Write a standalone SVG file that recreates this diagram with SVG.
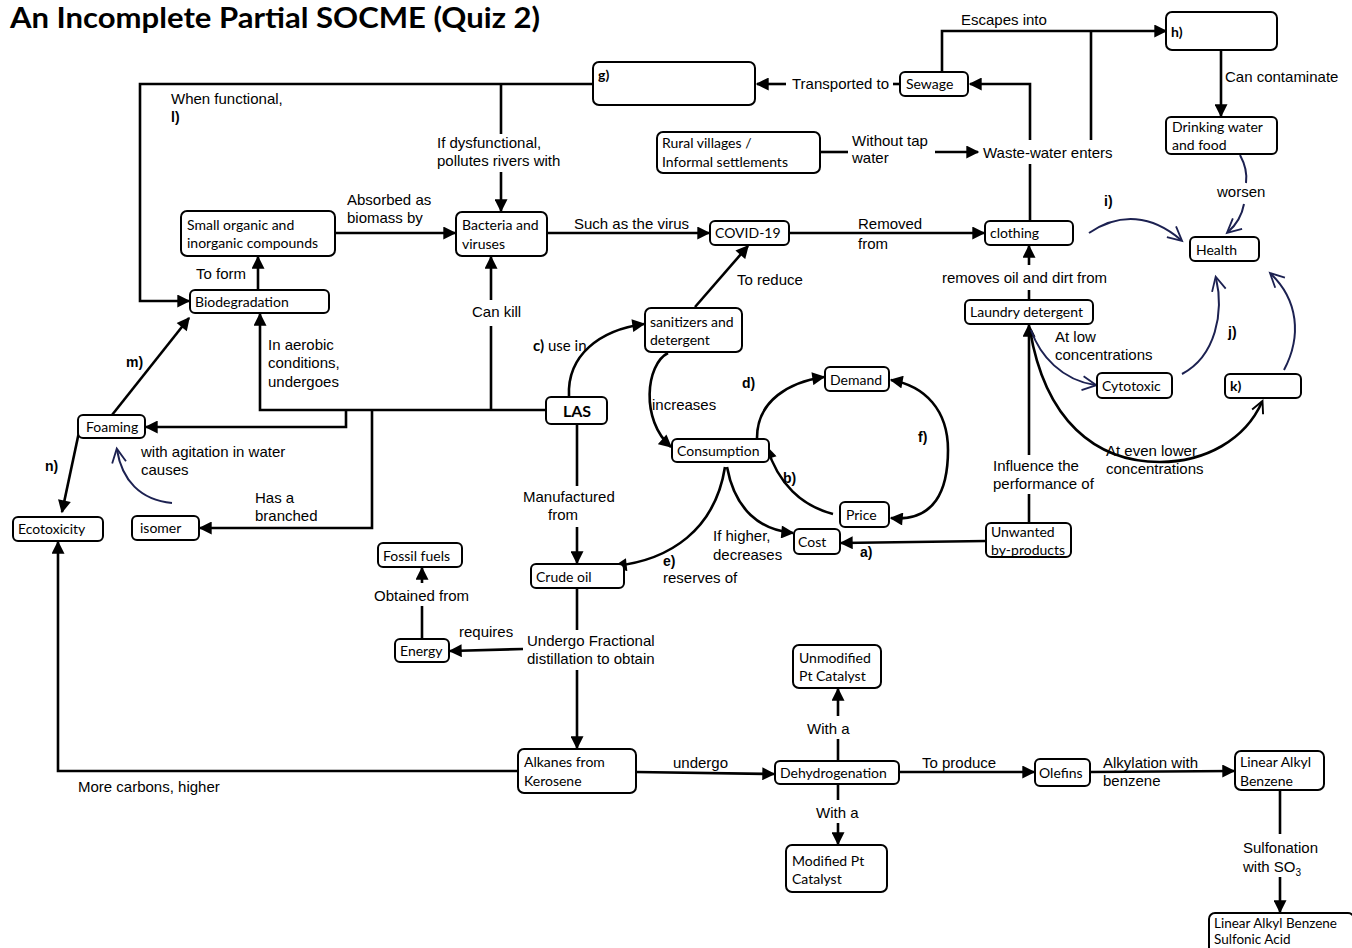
<svg xmlns="http://www.w3.org/2000/svg" width="1352" height="948" viewBox="0 0 1352 948">
  <style>
    .n rect { fill: #fff; stroke: #000; stroke-width: 2; }
    .n text { font-family: Lato, "Open Sans", sans-serif; font-size: 14px; fill: #000; }
    .b { font-weight: bold; }
    .c path, .c line, .c polyline { fill: none; stroke: #000; stroke-width: 2.6; }
    .c .nv { stroke: #1c2151; stroke-width: 2; }
    .l { font-family: "Liberation Sans", Arial, sans-serif; font-size: 15px; fill: #000; }
    .lb { font-family: "Liberation Sans", Arial, sans-serif; font-size: 14px; font-weight: bold; fill: #000; }
  </style>
  <defs>
    <marker id="ah" viewBox="0 0 10 10" refX="9" refY="5" markerWidth="14" markerHeight="13" markerUnits="userSpaceOnUse" orient="auto-start-reverse">
      <path d="M0,0 L10,5 L0,10 z" fill="#000"/>
    </marker>
    <marker id="ov" viewBox="0 0 10 10" refX="9" refY="5" markerWidth="14" markerHeight="20" markerUnits="userSpaceOnUse" orient="auto" overflow="visible">
      <path d="M0,0 L10,5 L0,10" fill="none" stroke="#1c2151" stroke-width="1.3"/>
    </marker>
    <marker id="ob" viewBox="0 0 10 10" refX="9" refY="5" markerWidth="12" markerHeight="18" markerUnits="userSpaceOnUse" orient="auto" overflow="visible">
      <path d="M0,0 L10,5 L0,10" fill="none" stroke="#000" stroke-width="1.6"/>
    </marker>
  </defs>
  <rect width="1352" height="948" fill="#fff"/>

  <text x="10" y="28" font-family="Lato, 'Open Sans', sans-serif" font-size="28" font-weight="bold" textLength="530" lengthAdjust="spacingAndGlyphs">An Incomplete Partial SOCME (Quiz 2)</text>

  <!-- connectors -->
  <g id="connectors" class="c">
    <!-- sewage branch -->
    <line x1="900" y1="84" x2="893" y2="84"/>
    <line x1="786" y1="84" x2="757" y2="84" marker-end="url(#ah)"/>
    <polyline points="1030,221 1030,164"/>
    <polyline points="1030,140 1030,84 970,84" marker-end="url(#ah)"/>
    <line x1="820" y1="152" x2="848" y2="152"/>
    <line x1="935" y1="152" x2="978" y2="152" marker-end="url(#ah)"/>
    <polyline points="942,72 942,31 1166,31" marker-end="url(#ah)"/>
    <line x1="1091" y1="31" x2="1091" y2="140"/>
    <line x1="1221" y1="50" x2="1221" y2="116" marker-end="url(#ah)"/>
    <!-- treatment plant -->
    <polyline points="593,84 140,84 140,301 189,301" marker-end="url(#ah)"/>
    <line x1="501" y1="84" x2="501" y2="134"/>
    <line x1="501" y1="172" x2="501" y2="211" marker-end="url(#ah)"/>
    <line x1="258" y1="290" x2="258" y2="257" marker-end="url(#ah)"/>
    <line x1="335" y1="233" x2="455" y2="233" marker-end="url(#ah)"/>
    <line x1="547" y1="233" x2="709" y2="233" marker-end="url(#ah)"/>
    <line x1="789" y1="233" x2="984" y2="233" marker-end="url(#ah)"/>
    <line x1="1029" y1="300" x2="1029" y2="290"/>
    <line x1="1029" y1="265" x2="1029" y2="246" marker-end="url(#ah)"/>
    <!-- from LAS -->
    <polyline points="546,410 260,410 260,314" marker-end="url(#ah)"/>
    <line x1="491" y1="410" x2="491" y2="326"/>
    <line x1="491" y1="300" x2="491" y2="257" marker-end="url(#ah)"/>
    <polyline points="346,410 346,427 146,427" marker-end="url(#ah)"/>
    <polyline points="372,410 372,528 200,528" marker-end="url(#ah)"/>
    <line x1="112" y1="415" x2="189" y2="318" marker-end="url(#ah)"/>
    <line x1="79" y1="432" x2="62" y2="512" marker-end="url(#ah)"/>
    <line x1="577" y1="424" x2="577" y2="486"/>
    <line x1="577" y1="527" x2="577" y2="563" marker-end="url(#ah)"/>
    <line x1="577" y1="588" x2="577" y2="630"/>
    <line x1="577" y1="670" x2="577" y2="748" marker-end="url(#ah)"/>
    <line x1="523" y1="649" x2="450" y2="651" marker-end="url(#ah)"/>
    <line x1="422" y1="639" x2="422" y2="606"/>
    <line x1="422" y1="583" x2="422" y2="568" marker-end="url(#ah)"/>
    <!-- production chain -->
    <polyline points="518,771 58,771 58,542" marker-end="url(#ah)"/>
    <line x1="636" y1="772" x2="774" y2="774" marker-end="url(#ah)"/>
    <line x1="838" y1="761" x2="838" y2="739"/>
    <line x1="838" y1="716" x2="838" y2="689" marker-end="url(#ah)"/>
    <line x1="838" y1="784" x2="838" y2="800"/>
    <line x1="838" y1="823" x2="838" y2="844" marker-end="url(#ah)"/>
    <line x1="899" y1="772" x2="1034" y2="772" marker-end="url(#ah)"/>
    <line x1="1090" y1="772" x2="1234" y2="771" marker-end="url(#ah)"/>
    <line x1="1280" y1="790" x2="1280" y2="834"/>
    <line x1="1280" y1="877" x2="1280" y2="912" marker-end="url(#ah)"/>
    <!-- economy loop -->
    <path d="M569,396 C567,355 600,330 644,324" marker-end="url(#ah)"/>
    <line x1="695" y1="307" x2="748" y2="246" marker-end="url(#ah)"/>
    <path d="M668,353 C646,364 640,420 671,447" marker-end="url(#ah)"/>
    <path d="M757,438 C757,400 790,382 824,377" marker-end="url(#ah)"/>
    <path d="M833,514 C802,506 778,484 767,447" marker-end="url(#ah)"/>
    <path d="M891,518 C935,522 948,490 948,450 C948,410 925,386 891,380" marker-start="url(#ah)" marker-end="url(#ah)"/>
    <path d="M727,467 C735,510 760,530 793,533" marker-end="url(#ah)"/>
    <path d="M725,467 C715,530 670,560 615,566" marker-end="url(#ah)"/>
    <line x1="986" y1="541" x2="841" y2="543" marker-end="url(#ah)"/>
    <line x1="1029" y1="523" x2="1029" y2="494"/>
    <line x1="1029" y1="455" x2="1029" y2="325" marker-end="url(#ah)"/>
    <!-- health effects -->
    <path d="M1030,330 C1045,420 1095,462 1160,462 C1205,462 1245,440 1262,402" stroke-width="2.4" marker-end="url(#ob)"/>
    <path class="nv" d="M1031,330 C1040,356 1062,380 1095,385" marker-end="url(#ov)"/>
    <path class="nv" d="M1182,374 C1216,356 1224,312 1216,278" marker-end="url(#ov)"/>
    <path class="nv" d="M1284,370 C1302,336 1298,300 1271,274" marker-end="url(#ov)"/>
    <path class="nv" d="M1089,233 C1120,212 1152,215 1181,240" marker-end="url(#ov)"/>
    <path class="nv" d="M1240,155 C1246,166 1247,176 1246,183"/>
    <path class="nv" d="M1244,204 C1242,215 1236,225 1228,232" marker-end="url(#ov)"/>
    <path class="nv" d="M172,503 C140,500 122,480 117,450" marker-end="url(#ov)"/>
  </g>

  <!-- connector labels -->
  <g id="labels">
    <text class="l" x="792" y="89">Transported to</text>
    <text class="l" x="961" y="25">Escapes into</text>
    <text class="l" x="1225" y="82">Can contaminate</text>
    <text class="l" x="852" y="146">Without tap</text>
    <text class="l" x="852" y="163">water</text>
    <text class="l" x="983" y="158">Waste-water enters</text>
    <text class="l" x="1217" y="197">worsen</text>
    <text class="lb" x="1104" y="206">i)</text>
    <text class="l" x="171" y="104">When functional,</text>
    <text class="lb" x="171" y="122">l)</text>
    <text class="l" x="437" y="148">If dysfunctional,</text>
    <text class="l" x="437" y="166">pollutes rivers with</text>
    <text class="l" x="347" y="205">Absorbed as</text>
    <text class="l" x="347" y="223">biomass by</text>
    <text class="l" x="574" y="229" font-family="Lato, sans-serif">Such as the virus</text>
    <text class="l" x="858" y="229">Removed</text>
    <text class="l" x="858" y="249">from</text>
    <text class="l" x="196" y="279">To form</text>
    <text class="l" x="942" y="283">removes oil and dirt from</text>
    <text class="l" x="737" y="285" font-family="Lato, sans-serif">To reduce</text>
    <text class="l" x="472" y="317" font-family="Lato, sans-serif">Can kill</text>
    <text class="l" x="268" y="350">In aerobic</text>
    <text class="l" x="268" y="368">conditions,</text>
    <text class="l" x="268" y="387">undergoes</text>
    <text class="lb" x="126" y="367">m)</text>
    <text x="533" y="351" font-family="Lato, sans-serif" font-size="15"><tspan font-weight="bold">c)</tspan> use in</text>
    <text class="l" x="1055" y="342">At low</text>
    <text class="l" x="1055" y="360">concentrations</text>
    <text class="lb" x="1228" y="337">j)</text>
    <text class="lb" x="742" y="388">d)</text>
    <text class="l" x="652" y="410" font-family="Lato, sans-serif">increases</text>
    <text class="l" x="141" y="457">with agitation in water</text>
    <text class="l" x="141" y="475">causes</text>
    <text class="lb" x="918" y="442">f)</text>
    <text class="lb" x="45" y="471">n)</text>
    <text class="l" x="1106" y="456">At even lower</text>
    <text class="l" x="1106" y="474">concentrations</text>
    <text class="l" x="993" y="471">Influence the</text>
    <text class="l" x="993" y="489">performance of</text>
    <text class="lb" x="783" y="483">b)</text>
    <text class="l" x="523" y="502">Manufactured</text>
    <text class="l" x="548" y="520">from</text>
    <text class="l" x="255" y="503">Has a</text>
    <text class="l" x="255" y="521">branched</text>
    <text class="l" x="713" y="541">If higher,</text>
    <text class="l" x="713" y="560">decreases</text>
    <text class="lb" x="860" y="557">a)</text>
    <text class="lb" x="663" y="566">e)</text>
    <text class="l" x="663" y="583">reserves of</text>
    <text class="l" x="374" y="601">Obtained from</text>
    <text class="l" x="459" y="637">requires</text>
    <text class="l" x="527" y="646">Undergo Fractional</text>
    <text class="l" x="527" y="664">distillation to obtain</text>
    <text class="l" x="807" y="734">With a</text>
    <text class="l" x="673" y="768">undergo</text>
    <text class="l" x="922" y="768">To produce</text>
    <text class="l" x="1103" y="768">Alkylation with</text>
    <text class="l" x="1103" y="786">benzene</text>
    <text class="l" x="78" y="792">More carbons, higher</text>
    <text class="l" x="816" y="818">With a</text>
    <text class="l" x="1243" y="853">Sulfonation</text>
    <text class="l" x="1243" y="872">with SO<tspan font-size="10" dy="4">3</tspan></text>
  </g>

  <!-- nodes -->
  <g id="g-box" class="n"><rect x="593" y="62" width="162" height="43" rx="6"/><text class="b" x="598" y="80">g)</text></g>
  <g id="sewage" class="n"><rect x="900" y="72" width="68" height="24" rx="5"/><text x="906" y="89">Sewage</text></g>
  <g id="h-box" class="n"><rect x="1166" y="12" width="111" height="38" rx="6"/><text class="b" x="1171" y="37">h)</text></g>
  <g id="drinking-water" class="n"><rect x="1166" y="117" width="111" height="37" rx="5"/><text x="1172" y="132">Drinking water</text><text x="1172" y="150">and food</text></g>
  <g id="rural" class="n"><rect x="657" y="132" width="163" height="41" rx="6"/><text x="662" y="148">Rural villages /</text><text x="662" y="167">Informal settlements</text></g>
  <g id="small-compounds" class="n"><rect x="181" y="211" width="154" height="45" rx="6"/><text x="187" y="230">Small organic and</text><text x="187" y="248">inorganic compounds</text></g>
  <g id="bacteria" class="n"><rect x="456" y="212" width="91" height="44" rx="6"/><text x="462" y="230">Bacteria and</text><text x="462" y="249">viruses</text></g>
  <g id="covid" class="n"><rect x="710" y="221" width="79" height="24" rx="5"/><text x="715" y="238">COVID-19</text></g>
  <g id="clothing" class="n"><rect x="985" y="221" width="88" height="24" rx="5"/><text x="990" y="238">clothing</text></g>
  <g id="health" class="n"><rect x="1190" y="237" width="69" height="24" rx="5"/><text x="1196" y="255">Health</text></g>
  <g id="biodegradation" class="n"><rect x="190" y="290" width="139" height="23" rx="5"/><text x="195" y="307">Biodegradation</text></g>
  <g id="laundry" class="n"><rect x="965" y="300" width="128" height="24" rx="5"/><text x="970" y="317">Laundry detergent</text></g>
  <g id="sanitizers" class="n"><rect x="645" y="308" width="97" height="44" rx="6"/><text x="650" y="327">sanitizers and</text><text x="650" y="345">detergent</text></g>
  <g id="las" class="n"><rect x="546" y="397" width="61" height="27" rx="5"/><text class="b" x="577" y="417" text-anchor="middle" style="font-size:16px">LAS</text></g>
  <g id="foaming" class="n"><rect x="78" y="415" width="67" height="23" rx="5"/><text x="86" y="432">Foaming</text></g>
  <g id="demand" class="n"><rect x="825" y="367" width="64" height="24" rx="5"/><text x="830" y="385">Demand</text></g>
  <g id="cytotoxic" class="n"><rect x="1097" y="373" width="75" height="25" rx="5"/><text x="1102" y="391">Cytotoxic</text></g>
  <g id="k-box" class="n"><rect x="1225" y="374" width="76" height="24" rx="5"/><text class="b" x="1230" y="391">k)</text></g>
  <g id="consumption" class="n"><rect x="672" y="439" width="97" height="23" rx="5"/><text x="677" y="456">Consumption</text></g>
  <g id="price" class="n"><rect x="840" y="502" width="49" height="25" rx="5"/><text x="846" y="520">Price</text></g>
  <g id="cost" class="n"><rect x="794" y="529" width="46" height="25" rx="5"/><text x="798" y="547">Cost</text></g>
  <g id="unwanted" class="n"><rect x="986" y="523" width="85" height="34" rx="5"/><text x="991" y="537">Unwanted</text><text x="991" y="555">by-products</text></g>
  <g id="ecotoxicity" class="n"><rect x="13" y="517" width="90" height="24" rx="5"/><text x="18" y="534">Ecotoxicity</text></g>
  <g id="isomer" class="n"><rect x="132" y="516" width="67" height="24" rx="5"/><text x="140" y="533">isomer</text></g>
  <g id="fossil-fuels" class="n"><rect x="378" y="543" width="84" height="24" rx="5"/><text x="383" y="561">Fossil fuels</text></g>
  <g id="crude-oil" class="n"><rect x="531" y="564" width="93" height="24" rx="5"/><text x="536" y="582">Crude oil</text></g>
  <g id="energy" class="n"><rect x="395" y="639" width="54" height="23" rx="5"/><text x="400" y="656">Energy</text></g>
  <g id="unmodified-pt" class="n"><rect x="793" y="645" width="88" height="43" rx="6"/><text x="799" y="663">Unmodified</text><text x="799" y="681">Pt Catalyst</text></g>
  <g id="alkanes" class="n"><rect x="518" y="749" width="118" height="44" rx="6"/><text x="524" y="767">Alkanes from</text><text x="524" y="786">Kerosene</text></g>
  <g id="dehydrogenation" class="n"><rect x="775" y="761" width="124" height="23" rx="5"/><text x="780" y="778">Dehydrogenation</text></g>
  <g id="olefins" class="n"><rect x="1035" y="759" width="55" height="27" rx="5"/><text x="1039" y="778">Olefins</text></g>
  <g id="lab" class="n"><rect x="1235" y="751" width="89" height="39" rx="6"/><text x="1240" y="767">Linear Alkyl</text><text x="1240" y="786">Benzene</text></g>
  <g id="modified-pt" class="n"><rect x="786" y="845" width="101" height="47" rx="6"/><text x="792" y="866">Modified Pt</text><text x="792" y="884">Catalyst</text></g>
  <g id="labsa" class="n"><rect x="1209" y="913" width="145" height="42" rx="6"/><text x="1214" y="928" style="font-size:13.5px">Linear Alkyl Benzene</text><text x="1214" y="944" style="font-size:13.5px">Sulfonic Acid</text></g>
</svg>
